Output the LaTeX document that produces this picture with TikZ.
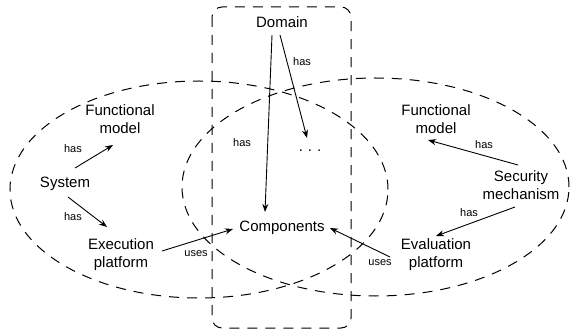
\documentclass[tikz,border=0pt]{standalone}
\usepackage{fontspec}
\setmainfont{Liberation Sans}
\usetikzlibrary{arrows.meta}
\begin{document}
\begin{tikzpicture}[x=1pt,y=-1pt,
  group/.style={draw, line width=1pt, dash pattern=on 10pt off 8pt},
  concept/.style={align=center, inner sep=0pt, font=\fontsize{15}{18}\selectfont},
  rel/.style={draw, line width=0.9pt, -{Stealth[length=8pt,width=6pt,inset=2.5pt]}},
  lbl/.style={inner sep=0pt, font=\fontsize{11}{13}\selectfont}]
\useasboundingbox (0,0) rectangle (570,331);

% the three overlapping groupings
\draw[group] (199,189.5) ellipse [x radius=189pt, y radius=108.5pt];
\draw[group] (375.5,187) ellipse [x radius=193.5pt, y radius=109pt];
\draw[group, rounded corners=10pt] (212,7) rectangle (351,328);

% concepts
\node[concept] (dom)  at (282,22)  {Domain};
\node[concept] (dots) at (310,151) {.\,\,.\,\,.};
\node[concept] (comp) at (282,228) {Components};
\node[concept] (fmL)  at (120,119) {Functional\\model};
\node[concept] (sys)  at (65,184)  {System};
\node[concept] (exe)  at (121,255) {Execution\\platform};
\node[concept] (fmR)  at (436,119) {Functional\\model};
\node[concept] (sec)  at (521,185) {Security\\mechanism};
\node[concept] (eva)  at (436,255) {Evaluation\\platform};

% relations
\draw[rel] ([shift={(10,-16)}]sys.center) -- ([shift={(-7,26)}]fmL.center);
\draw[rel] ([shift={(3,13)}]sys.center) -- ([shift={(-14,-28)}]exe.center);
\draw[rel] ([shift={(41,-4)}]exe.center) -- ([shift={(-49,1)}]comp.center);
\draw[rel] ([shift={(-10,13)}]dom.center) -- ([shift={(-17,-16)}]comp.center);
\draw[rel] ([shift={(-2,13)}]dom.center) -- ([shift={(-3,-13)}]dots.center);
\draw[rel] ([shift={(-3,-20)}]sec.center) -- ([shift={(-8,21)}]fmR.center);
\draw[rel] ([shift={(-6,22)}]sec.center) -- ([shift={(0,-19)}]eva.center);
\draw[rel] ([shift={(-46,2)}]eva.center) -- ([shift={(48,0)}]comp.center);

% relation labels
\node[lbl] (l1) at (73,149)  {has};
\node[lbl] (l2) at (73,217)  {has};
\node[lbl] (l3) at (196,254) {uses};
\node[lbl] (l4) at (242,143) {has};
\node[lbl] (l5) at (302,62)  {has};
\node[lbl] (l6) at (484,145) {has};
\node[lbl] (l7) at (469,213) {has};
\node[lbl] (l8) at (380,263) {uses};
\end{tikzpicture}
\end{document}
